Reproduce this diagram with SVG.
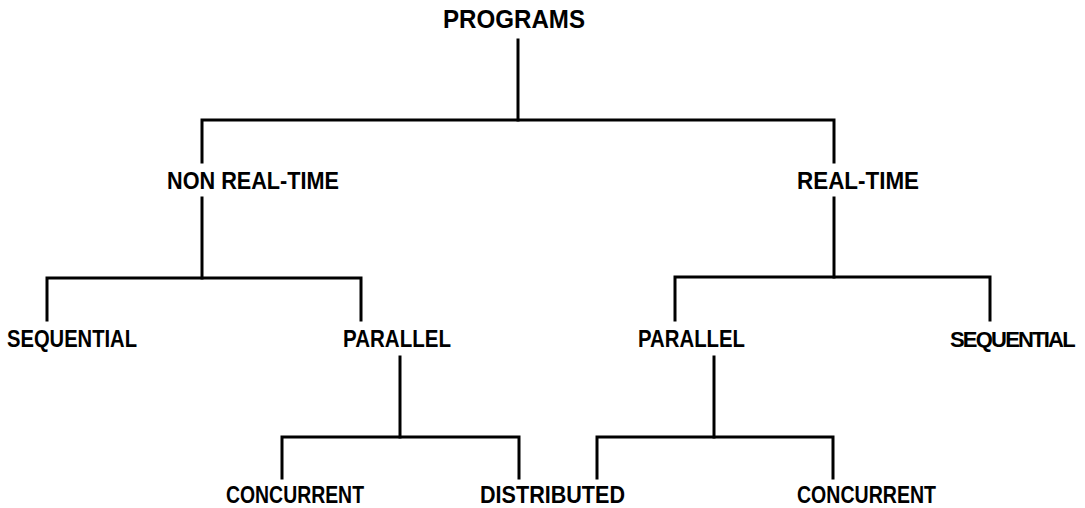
<svg xmlns="http://www.w3.org/2000/svg" width="1085" height="508" viewBox="0 0 1085 508">
<style>
.lbl{font-family:"Liberation Sans",Arial,sans-serif;font-weight:bold;font-size:23px;fill:#000}
.big{font-size:25px}
.tight{font-size:22px;letter-spacing:-1.8px}
.conn path{fill:none;stroke:#000;stroke-width:3;stroke-linecap:square;stroke-linejoin:miter}
</style>
<rect width="1085" height="508" fill="#fff"/>
<g class="conn" id="connectors">
<path d="M518 40V120"/>
<path d="M202 162V120H834V162"/>
<path d="M202 198V278"/>
<path d="M47 320V278H361V320"/>
<path d="M834 198V277"/>
<path d="M675 320V277H990V320"/>
<path d="M400 357V437"/>
<path d="M282 478V437H519V478"/>
<path d="M714 357V437"/>
<path d="M597 478V437H833V478"/>
</g>
<g id="programs"><text class="lbl big" x="443" y="28" textLength="142" lengthAdjust="spacingAndGlyphs">PROGRAMS</text></g>
<g id="nonrealtime"><text class="lbl" x="167" y="189" textLength="172" lengthAdjust="spacingAndGlyphs">NON REAL-TIME</text></g>
<g id="realtime"><text class="lbl" x="797" y="189" textLength="122" lengthAdjust="spacingAndGlyphs">REAL-TIME</text></g>
<g id="seq-left"><text class="lbl" x="7" y="347" textLength="130" lengthAdjust="spacingAndGlyphs">SEQUENTIAL</text></g>
<g id="par-left"><text class="lbl" x="343" y="347" textLength="108" lengthAdjust="spacingAndGlyphs">PARALLEL</text></g>
<g id="par-right"><text class="lbl" x="638" y="347" textLength="107" lengthAdjust="spacingAndGlyphs">PARALLEL</text></g>
<g id="seq-right"><text class="lbl tight" x="950" y="347">SEQUENTIAL</text></g>
<g id="conc-left"><text class="lbl" x="226" y="503" textLength="138" lengthAdjust="spacingAndGlyphs">CONCURRENT</text></g>
<g id="distributed"><text class="lbl" x="480" y="503" textLength="145" lengthAdjust="spacingAndGlyphs">DISTRIBUTED</text></g>
<g id="conc-right"><text class="lbl" x="797" y="503" textLength="139" lengthAdjust="spacingAndGlyphs">CONCURRENT</text></g>
</svg>
